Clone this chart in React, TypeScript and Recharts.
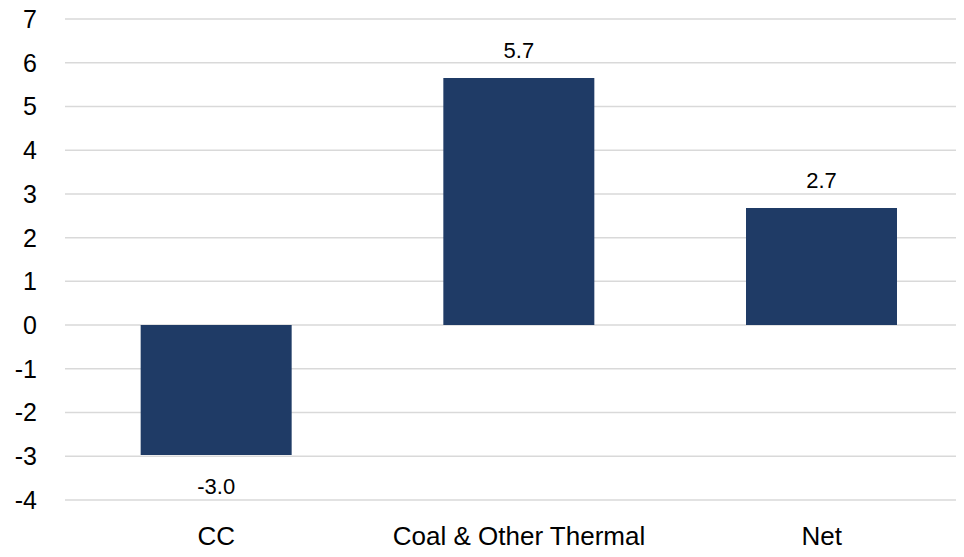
import { Bar, BarChart, CartesianGrid, LabelList, XAxis, YAxis } from 'recharts'

const categories = ['CC', 'Coal & Other Thermal', 'Net']
const values = [-2.97, 5.65, 2.68]
const labels = ['-3.0', '5.7', '2.7']
const yTicks = [-4, -3, -2, -1, 0, 1, 2, 3, 4, 5, 6, 7]

const data = categories.map((name, i) => ({ name, value: values[i], label: labels[i] }))

const FONT = '"Liberation Sans", Arial, sans-serif'

function BarLabel(props: any) {
  const { x, y, width, height, value } = props
  const top = Math.min(y, y + height)
  const bottom = Math.max(y, y + height)
  const idx = values.indexOf(value)
  const text = idx >= 0 ? labels[idx] : String(value)
  const ty = value < 0 ? bottom + 39 : top - 20
  return (
    <text x={x + width / 2} y={ty} textAnchor="middle" fill="#000" fontSize={22} fontFamily={FONT}>
      {text}
    </text>
  )
}

export default function App() {
  return (
    <div style={{ margin: -8, width: 964, height: 557, overflow: 'hidden', background: '#fff' }}>
      <BarChart
        width={973}
        height={557}
        data={data}
        margin={{ top: 19, right: 0, bottom: 0, left: 0 }}
        barCategoryGap="25%"
      >
        <CartesianGrid stroke="#d9d9d9" strokeWidth={1.5} vertical={false} />
        <XAxis
          dataKey="name"
          axisLine={false}
          tickLine={false}
          tickSize={0}
          tickMargin={27}
          height={57}
          tick={{ fill: '#000', fontSize: 26, fontFamily: FONT }}
        />
        <YAxis
          domain={[-4, 7]}
          ticks={yTicks}
          interval={0}
          axisLine={false}
          tickLine={false}
          tickSize={0}
          tickMargin={28}
          width={65}
          tick={{ fill: '#000', fontSize: 25, fontFamily: FONT }}
        />
        <Bar dataKey="value" fill="#1f3b66" isAnimationActive={false}>
          <LabelList dataKey="value" content={BarLabel} />
        </Bar>
      </BarChart>
    </div>
  )
}
